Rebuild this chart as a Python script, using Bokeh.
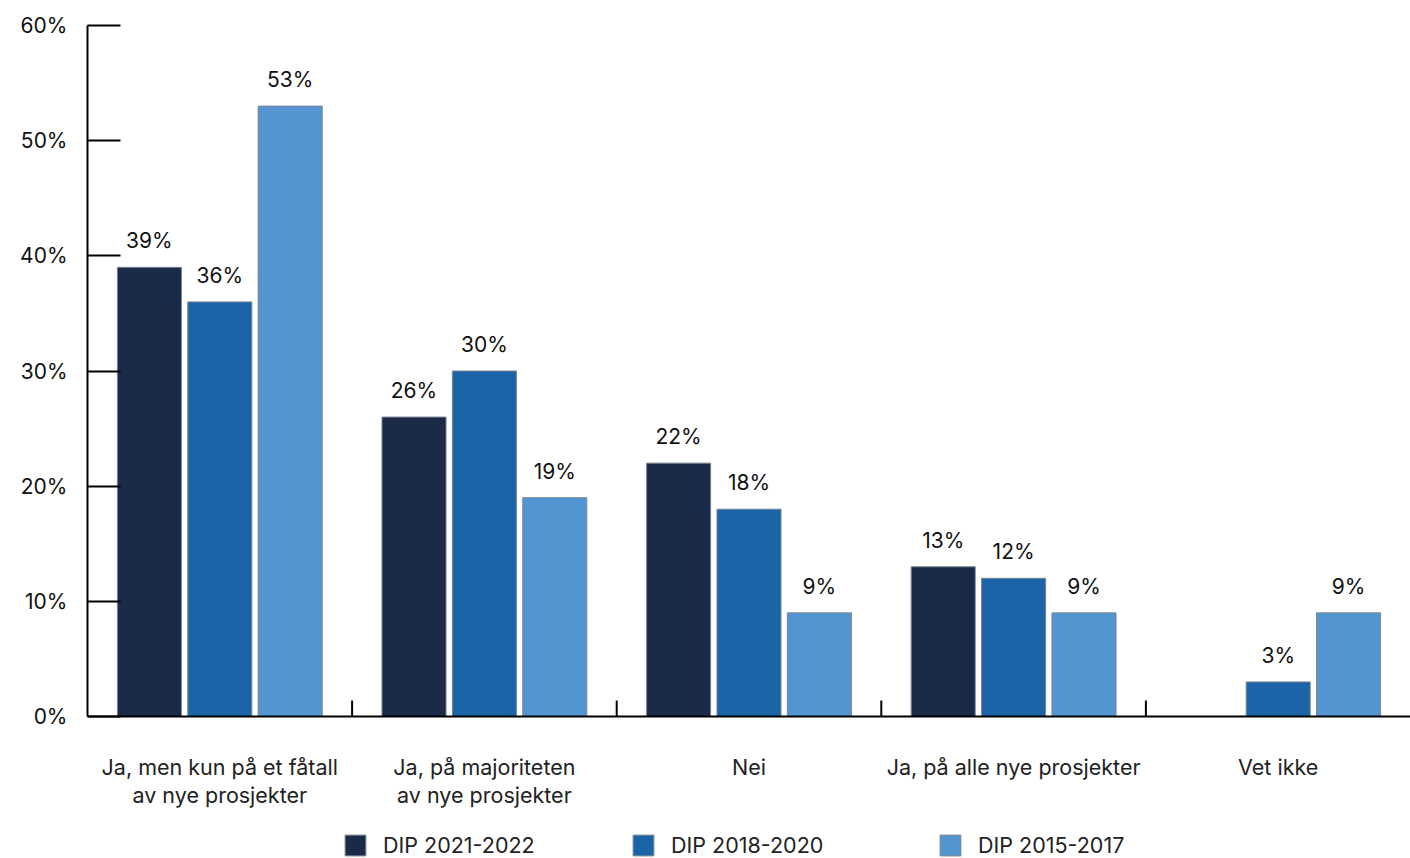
import math
from bokeh.plotting import figure
from bokeh.models import (Range1d, FixedTicker, LinearAxis, PrintfTickFormatter,
                          ColumnDataSource, Legend, LegendItem)
from bokeh.core.properties import value
from bokeh.embed import file_html
from bokeh.resources import INLINE

categories = ["Ja, men kun på et fåtall\nav nye prosjekter",
              "Ja, på majoriteten\nav nye prosjekter",
              "Nei",
              "Ja, på alle nye prosjekter",
              "Vet ikke"]
series_names = ["DIP 2021-2022", "DIP 2018-2020", "DIP 2015-2017"]
dip_2021_2022 = [39, 26, 22, 13, float("nan")]
dip_2018_2020 = [36, 30, 18, 12, 3]
dip_2015_2017 = [53, 19, 9, 9, 9]
colors = ["#1b2a48", "#1c64a8", "#5295d0"]
y_ticks = [0, 10, 20, 30, 40, 50, 60]

FONT = "Inter"
n = len(categories)

W, H = 1410, 858
LEFT, TOP = 87, 25
ZERO_PX = 716          # pixel row of the 0% baseline
YMAX = 60
px_per_unit = (ZERO_PX - TOP) / YMAX
y_start = -(H - ZERO_PX) / px_per_unit

p = figure(width=W, height=H, output_backend="svg", toolbar_location=None,
           x_range=Range1d(0, n), y_range=Range1d(y_start, YMAX),
           min_border_left=LEFT, min_border_right=0, min_border_top=TOP,
           min_border_bottom=0, x_axis_location=None, y_axis_location=None)
p.outline_line_color = None
p.grid.visible = False
p.background_fill_color = "white"

series = [dip_2021_2022, dip_2018_2020, dip_2015_2017]
offsets = [-0.266, 0.0, 0.266]
renderers = []
for vals, off, col in zip(series, offsets, colors):
    xs = [i + 0.5 + off for i in range(n)]
    src = ColumnDataSource(dict(x=xs, top=vals))
    r = p.vbar(x="x", top="top", bottom=0, width=0.242, source=src, fill_color=col,
               line_color="#7a8593", line_width=1)
    renderers.append(r)
    lx = [x for x, v in zip(xs, vals) if not math.isnan(v)]
    ly = [v for v in vals if not math.isnan(v)]
    lt = [f"{int(v)}%" for v in ly]
    lsrc = ColumnDataSource(dict(x=lx, y=ly, t=lt))
    p.text(x="x", y="y", text="t", source=lsrc, text_align="center",
           text_baseline="bottom", y_offset=-14, text_font=value(FONT),
           text_font_size="21px", text_color="#111111")

# x axis line and category separators
p.segment(x0=[0], x1=[n], y0=[0], y1=[0], line_color="black", line_width=2)
sep_x = list(range(1, n))
p.segment(x0=sep_x, x1=sep_x, y0=[0] * len(sep_x),
          y1=[16 / px_per_unit] * len(sep_x), line_color="black", line_width=2)

# category labels
centers = [i + 0.5 for i in range(n)]
csrc = ColumnDataSource(dict(x=centers, y=[0] * n, t=categories))
p.text(x="x", y="y", text="t", source=csrc, text_align="center",
       text_baseline="top", y_offset=37, text_font=value(FONT),
       text_font_size="21.5px", text_color="#222222", text_line_height=1.1)

# y axis
yax = LinearAxis(ticker=FixedTicker(ticks=y_ticks),
                 formatter=PrintfTickFormatter(format="%d%%"), bounds=(0, YMAX))
yax.axis_line_width = 2
yax.axis_line_color = "black"
yax.major_tick_in = 33
yax.major_tick_out = 0
yax.major_tick_line_width = 2
yax.minor_tick_line_color = None
yax.major_label_standoff = 20
yax.major_label_text_font = FONT
yax.major_label_text_font_size = "21px"
yax.major_label_text_color = "#111111"
p.add_layout(yax, "left")

# legends
legend_x = [255, 543, 850]
for name, r, lx in zip(series_names, renderers, legend_x):
    lg = Legend(items=[LegendItem(label=name, renderers=[r])],
                location=(lx, 0), orientation="horizontal",
                padding=0, margin=0, spacing=0,
                glyph_width=26, glyph_height=26, label_standoff=15,
                label_text_font=FONT, label_text_font_size="21.5px",
                label_text_color="#222222", border_line_alpha=0,
                background_fill_alpha=0)
    p.add_layout(lg, "center")

open("out.html", "w").write(file_html(p, INLINE))
